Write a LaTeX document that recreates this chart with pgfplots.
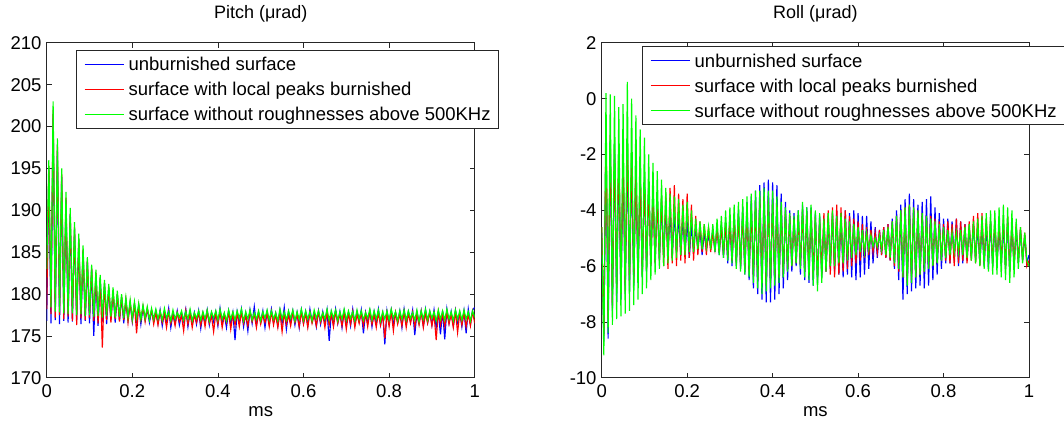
\documentclass[border=0pt]{standalone}
\usepackage{pgfplots}
\pgfplotsset{compat=1.18}
\usepackage{pgfplotstable}
\usepackage{fontspec}
\setmainfont{Liberation Sans}
\definecolor{mblue}{rgb}{0,0,1}
\definecolor{mred}{rgb}{1,0,0}
\definecolor{mgreen}{rgb}{0,1,0}
\definecolor{frame}{gray}{0.15}

\pgfplotstableread{
x b r g
0.000 176.8 178.2 183.0
0.005 194.8 195.3 196.0
0.010 176.5 177.6 178.4
0.015 201.5 202.0 203.0
0.020 176.9 177.2 177.9
0.025 197.2 197.8 198.6
0.030 176.4 177.5 177.8
0.035 194.0 194.3 195.0
0.040 176.8 177.0 177.7
0.045 191.2 191.5 192.2
0.050 176.6 177.3 177.6
0.055 189.5 189.6 190.3
0.060 176.7 176.8 177.7
0.065 187.8 188.0 188.6
0.070 176.9 176.3 177.5
0.075 186.5 186.6 187.2
0.080 176.4 177.1 177.6
0.085 185.1 185.3 185.8
0.090 176.8 176.9 177.4
0.095 183.9 184.0 184.4
0.100 176.5 177.2 177.5
0.105 183.0 183.1 183.5
0.110 175.0 176.8 177.3
0.115 182.3 182.5 182.9
0.120 176.2 176.5 177.4
0.125 181.8 181.9 182.3
0.130 176.7 173.6 177.2
0.135 181.2 181.3 181.7
0.140 176.4 176.9 177.4
0.145 180.7 180.8 181.2
0.150 176.9 176.6 177.3
0.155 180.3 180.4 180.8
0.160 176.6 177.0 177.2
0.165 179.9 180.0 180.4
0.170 176.8 176.7 177.3
0.175 179.6 179.7 180.0
0.180 176.5 176.9 177.1
0.185 179.2 179.3 179.6
0.190 176.9 176.6 177.2
0.195 178.9 179.0 179.3
0.200 176.7 176.8 177.0
0.205 178.8 178.9 179.1
0.210 176.8 175.3 177.2
0.215 178.6 178.6 178.9
0.220 176.4 176.9 177.0
0.225 178.4 178.5 178.7
0.230 176.9 176.7 177.1
0.235 178.2 178.3 178.5
0.240 176.6 177.0 176.9
0.245 178.0 178.1 178.3
0.250 176.8 176.4 177.0
0.255 178.0 177.8 178.2
0.260 176.5 176.3 177.0
0.265 178.1 177.9 178.0
0.270 176.2 176.6 176.9
0.275 177.8 177.6 178.3
0.280 176.8 176.0 177.1
0.285 178.3 177.9 177.9
0.290 176.0 176.5 176.8
0.295 177.7 177.5 178.1
0.300 176.6 176.2 177.0
0.305 178.0 177.8 177.8
0.310 176.3 176.7 177.2
0.315 177.6 177.4 178.0
0.320 176.7 175.6 176.9
0.325 178.2 178.0 177.9
0.330 176.1 176.4 177.0
0.335 177.9 177.7 178.2
0.340 176.5 176.0 176.8
0.345 177.8 177.5 177.8
0.350 176.4 176.6 177.1
0.355 178.0 177.8 178.0
0.360 175.9 176.3 176.9
0.365 177.7 177.6 177.9
0.370 176.6 176.1 177.0
0.375 178.1 177.9 178.1
0.380 176.3 176.5 176.8
0.385 177.8 177.4 177.9
0.390 176.7 175.5 177.1
0.395 177.9 177.7 178.0
0.400 176.2 176.4 176.9
0.405 178.3 177.9 178.2
0.410 176.5 176.0 177.0
0.415 177.6 177.5 177.8
0.420 176.0 176.6 176.8
0.425 178.0 177.8 178.1
0.430 176.4 175.8 177.0
0.435 177.8 177.6 177.9
0.440 174.5 176.3 176.9
0.445 177.9 177.7 178.0
0.450 176.6 176.1 177.1
0.455 178.2 177.8 178.2
0.460 176.1 176.5 176.8
0.465 177.7 177.4 177.9
0.470 175.6 176.2 177.0
0.475 178.1 177.9 178.1
0.480 176.5 176.7 176.9
0.485 178.5 177.6 177.8
0.490 176.3 176.0 177.0
0.495 177.8 177.8 178.0
0.500 176.7 176.4 176.8
0.505 178.0 177.5 177.9
0.510 176.0 176.6 177.1
0.515 177.9 177.7 178.1
0.520 176.4 176.1 176.9
0.525 178.2 177.9 178.0
0.530 176.6 176.3 177.0
0.535 177.7 177.6 177.8
0.540 176.2 176.0 176.8
0.545 178.1 177.8 178.2
0.550 176.5 175.5 177.0
0.555 178.4 177.7 177.9
0.560 175.8 176.4 176.9
0.565 177.9 177.5 178.0
0.570 176.6 176.2 177.1
0.575 178.0 177.8 178.1
0.580 176.3 176.6 176.8
0.585 177.8 177.6 177.9
0.590 176.0 176.1 177.0
0.595 178.1 177.9 178.2
0.600 176.5 176.4 176.9
0.605 177.9 177.7 178.0
0.610 176.2 176.0 177.0
0.615 178.2 177.8 177.9
0.620 176.7 176.5 176.8
0.625 177.7 177.5 178.1
0.630 176.1 176.2 177.1
0.635 178.0 177.9 178.0
0.640 176.4 176.6 176.9
0.645 177.9 177.6 177.8
0.650 176.6 176.0 177.0
0.655 178.1 177.8 178.2
0.660 174.4 176.3 176.9
0.665 177.8 177.7 178.0
0.670 176.3 176.1 177.1
0.675 178.2 177.9 178.1
0.680 176.5 176.5 176.8
0.685 177.9 177.6 177.9
0.690 176.0 176.2 177.0
0.695 178.0 177.8 178.2
0.700 176.6 175.8 176.9
0.705 177.8 177.7 178.0
0.710 176.2 176.4 177.1
0.715 178.2 177.9 177.9
0.720 176.4 176.0 176.8
0.725 177.9 177.6 178.1
0.730 176.7 176.5 177.0
0.735 178.1 177.8 178.0
0.740 175.3 176.2 176.9
0.745 177.8 177.7 177.8
0.750 176.5 176.1 177.1
0.755 178.0 177.9 178.2
0.760 176.1 176.4 176.9
0.765 177.9 177.5 178.0
0.770 176.6 176.0 177.0
0.775 178.2 177.8 178.1
0.780 176.3 176.3 176.8
0.785 177.7 177.6 177.9
0.790 174.0 174.7 177.0
0.795 178.0 177.7 178.0
0.800 176.5 176.1 176.9
0.805 178.1 177.9 178.2
0.810 176.2 175.6 177.1
0.815 177.8 177.8 177.9
0.820 176.6 176.4 176.8
0.825 178.0 177.6 178.0
0.830 176.0 176.2 177.0
0.835 178.2 177.9 178.1
0.840 176.4 176.0 176.9
0.845 177.9 177.7 178.0
0.850 176.7 176.5 177.1
0.855 178.1 177.8 177.8
0.860 175.1 176.1 176.9
0.865 177.8 177.6 178.1
0.870 176.5 176.3 176.7
0.875 178.0 177.9 178.0
0.880 176.2 176.0 177.0
0.885 178.2 177.7 178.2
0.890 176.6 176.5 176.9
0.895 177.9 177.8 178.0
0.900 176.3 176.2 177.1
0.905 178.1 177.6 177.9
0.910 176.0 174.5 176.8
0.915 177.8 177.9 178.1
0.920 175.2 176.3 177.0
0.925 178.0 177.7 178.0
0.930 174.6 176.1 176.9
0.935 178.2 177.8 178.2
0.940 176.5 176.4 177.0
0.945 177.9 177.6 177.9
0.950 176.2 176.0 176.8
0.955 178.1 177.9 178.1
0.960 176.6 175.4 177.0
0.965 177.8 177.7 178.0
0.970 176.1 176.3 176.9
0.975 178.0 177.8 178.1
0.980 175.3 176.1 177.0
0.985 178.2 177.6 177.9
0.990 176.4 176.2 176.8
0.995 178.1 177.9 178.0
1.000 178.4 176.5 177.2
}\pitchdata

\pgfplotstableread{
x b r g
0.000 -4.8 -4.6 -4.6
0.005 -8.7 -8.5 -9.2
0.010 -1.2 -1.0 0.2
0.015 -8.6 -7.9 -8.4
0.020 -1.5 -1.3 0.15
0.025 -7.6 -7.5 -8.1
0.030 -1.6 -1.8 0.1
0.035 -7.3 -6.8 -7.9
0.040 -1.9 -1.7 -0.3
0.045 -7.2 -7.0 -7.8
0.050 -2.1 -2.0 -0.2
0.055 -7.0 -6.9 -7.7
0.060 -1.8 -1.6 0.6
0.065 -6.9 -6.7 -7.6
0.070 -2.2 -2.1 0.0
0.075 -6.7 -6.6 -7.4
0.080 -2.4 -2.5 -0.6
0.085 -6.6 -6.4 -7.2
0.090 -2.6 -2.7 -1.1
0.095 -6.4 -6.3 -7.0
0.100 -2.8 -2.9 -1.4
0.105 -6.2 -6.1 -6.8
0.110 -3.0 -3.1 -2.0
0.115 -6.0 -6.0 -6.5
0.120 -3.3 -3.4 -2.3
0.125 -5.9 -5.9 -6.3
0.130 -3.5 -3.6 -2.6
0.135 -5.8 -5.8 -6.1
0.140 -3.7 -3.5 -2.9
0.145 -5.7 -6.0 -6.0
0.150 -3.9 -3.4 -3.2
0.155 -5.6 -6.1 -5.9
0.160 -4.0 -3.2 -3.4
0.165 -5.7 -5.9 -5.8
0.170 -4.1 -3.1 -3.5
0.175 -5.5 -6.0 -5.7
0.180 -4.2 -3.4 -3.6
0.185 -5.6 -5.8 -5.6
0.190 -4.3 -3.6 -3.8
0.195 -5.5 -5.9 -5.6
0.200 -4.4 -3.4 -3.7
0.205 -5.7 -5.7 -5.5
0.210 -4.5 -3.8 -4.0
0.215 -5.5 -5.8 -5.5
0.220 -4.6 -4.2 -4.3
0.225 -5.4 -5.6 -5.4
0.230 -4.7 -4.4 -4.4
0.235 -5.6 -5.5 -5.4
0.240 -4.8 -4.5 -4.5
0.245 -5.4 -5.6 -5.3
0.250 -4.9 -4.6 -4.6
0.255 -5.3 -5.5 -5.4
0.260 -4.7 -4.8 -4.5
0.265 -5.5 -5.4 -5.5
0.270 -4.6 -4.7 -4.3
0.275 -5.6 -5.5 -5.6
0.280 -4.5 -4.6 -4.2
0.285 -5.7 -5.6 -5.7
0.290 -4.4 -4.5 -4.0
0.295 -5.9 -5.7 -5.8
0.300 -4.3 -4.4 -3.9
0.305 -6.0 -5.8 -5.9
0.310 -4.1 -4.3 -3.8
0.315 -6.0 -5.9 -6.1
0.320 -4.0 -4.2 -3.7
0.325 -6.1 -6.0 -6.2
0.330 -3.9 -4.1 -3.6
0.335 -6.3 -6.1 -6.3
0.340 -3.7 -4.0 -3.5
0.345 -6.5 -6.2 -6.4
0.350 -3.5 -3.9 -3.4
0.355 -6.8 -6.4 -6.6
0.360 -3.3 -3.7 -3.3
0.365 -7.0 -6.5 -6.8
0.370 -3.1 -3.6 -3.3
0.375 -7.2 -6.6 -7.0
0.380 -3.0 -3.5 -3.2
0.385 -7.3 -6.7 -6.9
0.390 -2.9 -3.6 -3.3
0.395 -7.3 -6.6 -6.8
0.400 -3.0 -3.7 -3.3
0.405 -7.2 -6.5 -6.7
0.410 -3.1 -3.8 -3.5
0.415 -7.0 -6.4 -6.6
0.420 -3.4 -3.9 -3.7
0.425 -6.8 -6.3 -6.4
0.430 -3.7 -4.0 -3.9
0.435 -6.5 -6.1 -6.2
0.440 -4.0 -4.2 -4.1
0.445 -6.2 -6.0 -6.0
0.450 -4.1 -4.3 -4.2
0.455 -6.0 -5.9 -5.9
0.460 -4.0 -4.2 -4.0
0.465 -6.3 -6.0 -6.1
0.470 -3.8 -4.0 -3.7
0.475 -6.5 -6.2 -6.4
0.480 -3.9 -4.1 -3.9
0.485 -6.6 -6.3 -6.5
0.490 -3.9 -4.0 -3.8
0.495 -6.7 -6.4 -6.7
0.500 -4.1 -4.2 -4.0
0.505 -6.6 -6.5 -6.9
0.510 -4.2 -4.3 -4.1
0.515 -6.4 -6.3 -6.6
0.520 -4.3 -4.1 -4.3
0.525 -6.2 -6.2 -6.2
0.530 -4.2 -4.0 -4.1
0.535 -6.1 -6.3 -6.0
0.540 -4.1 -3.9 -4.0
0.545 -6.2 -6.4 -6.0
0.550 -4.0 -3.8 -4.2
0.555 -6.3 -6.3 -5.9
0.560 -4.1 -3.9 -4.1
0.565 -6.4 -6.2 -5.9
0.570 -4.0 -4.0 -4.3
0.575 -6.3 -6.1 -5.8
0.580 -4.1 -4.2 -4.4
0.585 -6.4 -6.0 -5.7
0.590 -4.0 -4.3 -4.5
0.595 -6.5 -5.9 -5.6
0.600 -4.1 -4.4 -4.6
0.605 -6.4 -5.8 -5.5
0.610 -4.2 -4.5 -4.7
0.615 -6.3 -5.7 -5.5
0.620 -4.2 -4.6 -4.8
0.625 -6.1 -5.6 -5.4
0.630 -4.4 -4.7 -4.9
0.635 -5.9 -5.5 -5.3
0.640 -4.6 -4.8 -5.0
0.645 -5.7 -5.5 -5.3
0.650 -4.7 -4.7 -4.9
0.655 -5.6 -5.6 -5.4
0.660 -4.6 -4.6 -4.7
0.665 -5.7 -5.7 -5.6
0.670 -4.5 -4.5 -4.6
0.675 -5.8 -5.8 -5.7
0.680 -4.3 -4.4 -4.4
0.685 -6.1 -6.0 -5.9
0.690 -4.0 -4.2 -4.2
0.695 -6.5 -6.2 -6.1
0.700 -3.8 -4.0 -4.0
0.705 -7.2 -6.4 -6.4
0.710 -3.6 -3.9 -3.9
0.715 -7.0 -6.6 -6.7
0.720 -3.4 -3.8 -3.8
0.725 -6.9 -6.5 -6.6
0.730 -3.6 -3.9 -3.9
0.735 -6.8 -6.4 -6.4
0.740 -3.8 -4.0 -4.0
0.745 -6.7 -6.3 -6.3
0.750 -3.7 -4.1 -4.1
0.755 -6.8 -6.2 -6.2
0.760 -3.6 -4.2 -4.2
0.765 -6.7 -6.1 -6.1
0.770 -3.5 -4.2 -4.3
0.775 -6.5 -6.0 -6.0
0.780 -3.9 -4.3 -4.4
0.785 -6.3 -5.9 -5.9
0.790 -4.1 -4.4 -4.5
0.795 -6.1 -5.8 -5.8
0.800 -4.3 -4.5 -4.6
0.805 -5.9 -5.8 -5.7
0.810 -4.3 -4.4 -4.7
0.815 -5.9 -5.9 -5.6
0.820 -4.4 -4.5 -4.8
0.825 -5.8 -6.0 -5.5
0.830 -4.3 -4.3 -4.8
0.835 -6.0 -5.9 -5.5
0.840 -4.4 -4.4 -4.7
0.845 -5.9 -5.8 -5.6
0.850 -4.5 -4.5 -4.6
0.855 -5.8 -5.9 -5.7
0.860 -4.6 -4.4 -4.5
0.865 -5.7 -5.8 -5.8
0.870 -4.5 -4.2 -4.4
0.875 -5.8 -5.9 -5.9
0.880 -4.6 -4.1 -4.3
0.885 -5.9 -6.0 -6.0
0.890 -4.5 -4.1 -4.2
0.895 -6.0 -5.9 -6.1
0.900 -4.5 -4.3 -4.1
0.905 -6.1 -5.8 -6.2
0.910 -4.4 -4.4 -4.0
0.915 -6.0 -5.9 -6.3
0.920 -4.5 -4.3 -4.0
0.925 -5.9 -6.0 -6.3
0.930 -4.6 -4.4 -3.9
0.935 -6.0 -5.9 -6.4
0.940 -4.5 -4.3 -3.8
0.945 -6.1 -6.1 -6.5
0.950 -4.4 -4.2 -3.9
0.955 -6.2 -6.2 -6.6
0.960 -4.5 -4.4 -4.0
0.965 -6.0 -6.0 -6.4
0.970 -4.6 -4.5 -4.3
0.975 -5.9 -5.9 -6.1
0.980 -4.7 -4.6 -4.6
0.985 -5.8 -5.8 -5.9
0.990 -4.9 -4.8 -4.8
0.995 -5.9 -6.0 -5.8
1.000 -5.6 -5.8 -6.0
}\rolldata

\pgfplotsset{
  matlab/.style={
    anchor=south west, scale only axis,
    width=428pt, height=335pt,
    xmin=0, xmax=1,
    xtick={0,0.2,0.4,0.6,0.8,1},
    xticklabels={0,0.2,0.4,0.6,0.8,1},
    tick align=inside,
    major tick length=5pt,
    axis line style={frame, line width=0.8pt},
    tick style={frame, line width=0.7pt},
    xticklabel style={anchor=north, inner sep=0pt, yshift=-7pt},
    yticklabel style={anchor=east, inner sep=0pt, xshift=-5pt},
    title style={at={(0.5,1)}, anchor=center, yshift=22.5pt, inner sep=0pt, font=\fontsize{18}{20}\selectfont},
    xlabel style={at={(0.5,0)}, anchor=center, yshift=-34.3pt, inner sep=0pt},
    xlabel={ms},
    legend cell align=left,
    legend style={anchor=north west, draw=frame, line width=0.8pt, fill=white,
      inner xsep=7.5pt, inner ysep=1.7pt, row sep=0pt, column sep=4.5pt,
      nodes={inner sep=0pt, text height=19.2pt, text depth=5.8pt}},
    legend image code/.code={\draw[#1, line width=1pt] (0pt,0pt) -- (39pt,0pt);},
  },
  sig/.style={line width=1.15pt},
}

\begin{document}
\fontsize{18.5}{21}\selectfont
\begin{tikzpicture}
\path[use as bounding box] (0,0) rectangle (1064pt,424pt);
\begin{axis}[matlab,
  at={(46.7pt,46.2pt)},
  ymin=170, ymax=210,
  ytick={170,175,180,185,190,195,200,205,210},
  yticklabels={170,175,180,185,190,195,200,205,210},
  title={Pitch (μrad)},
  legend style={at={(0.069,0.980)}},
]
\addplot[sig, mblue] table[x=x, y=b] {\pitchdata};
\addlegendentry{unburnished surface}
\addplot[sig, mred] table[x=x, y=r] {\pitchdata};
\addlegendentry{surface with local peaks burnished}
\addplot[sig, mgreen] table[x=x, y=g] {\pitchdata};
\addlegendentry{surface without roughnesses above 500KHz}
\end{axis}
\begin{axis}[matlab,
  at={(601.7pt,46.2pt)},
  width=427.3pt,
  ymin=-10, ymax=2,
  ytick={-10,-8,-6,-4,-2,0,2},
  yticklabels={-10,-8,-6,-4,-2,0,2},
  title={Roll (μrad)},
  legend style={at={(0.095,0.991)}},
]
\addplot[sig, mblue] table[x=x, y=b] {\rolldata};
\addlegendentry{unburnished surface}
\addplot[sig, mred] table[x=x, y=r] {\rolldata};
\addlegendentry{surface with local peaks burnished}
\addplot[sig, mgreen] table[x=x, y=g] {\rolldata};
\addlegendentry{surface without roughnesses above 500KHz}
\end{axis}
\end{tikzpicture}
\end{document}
